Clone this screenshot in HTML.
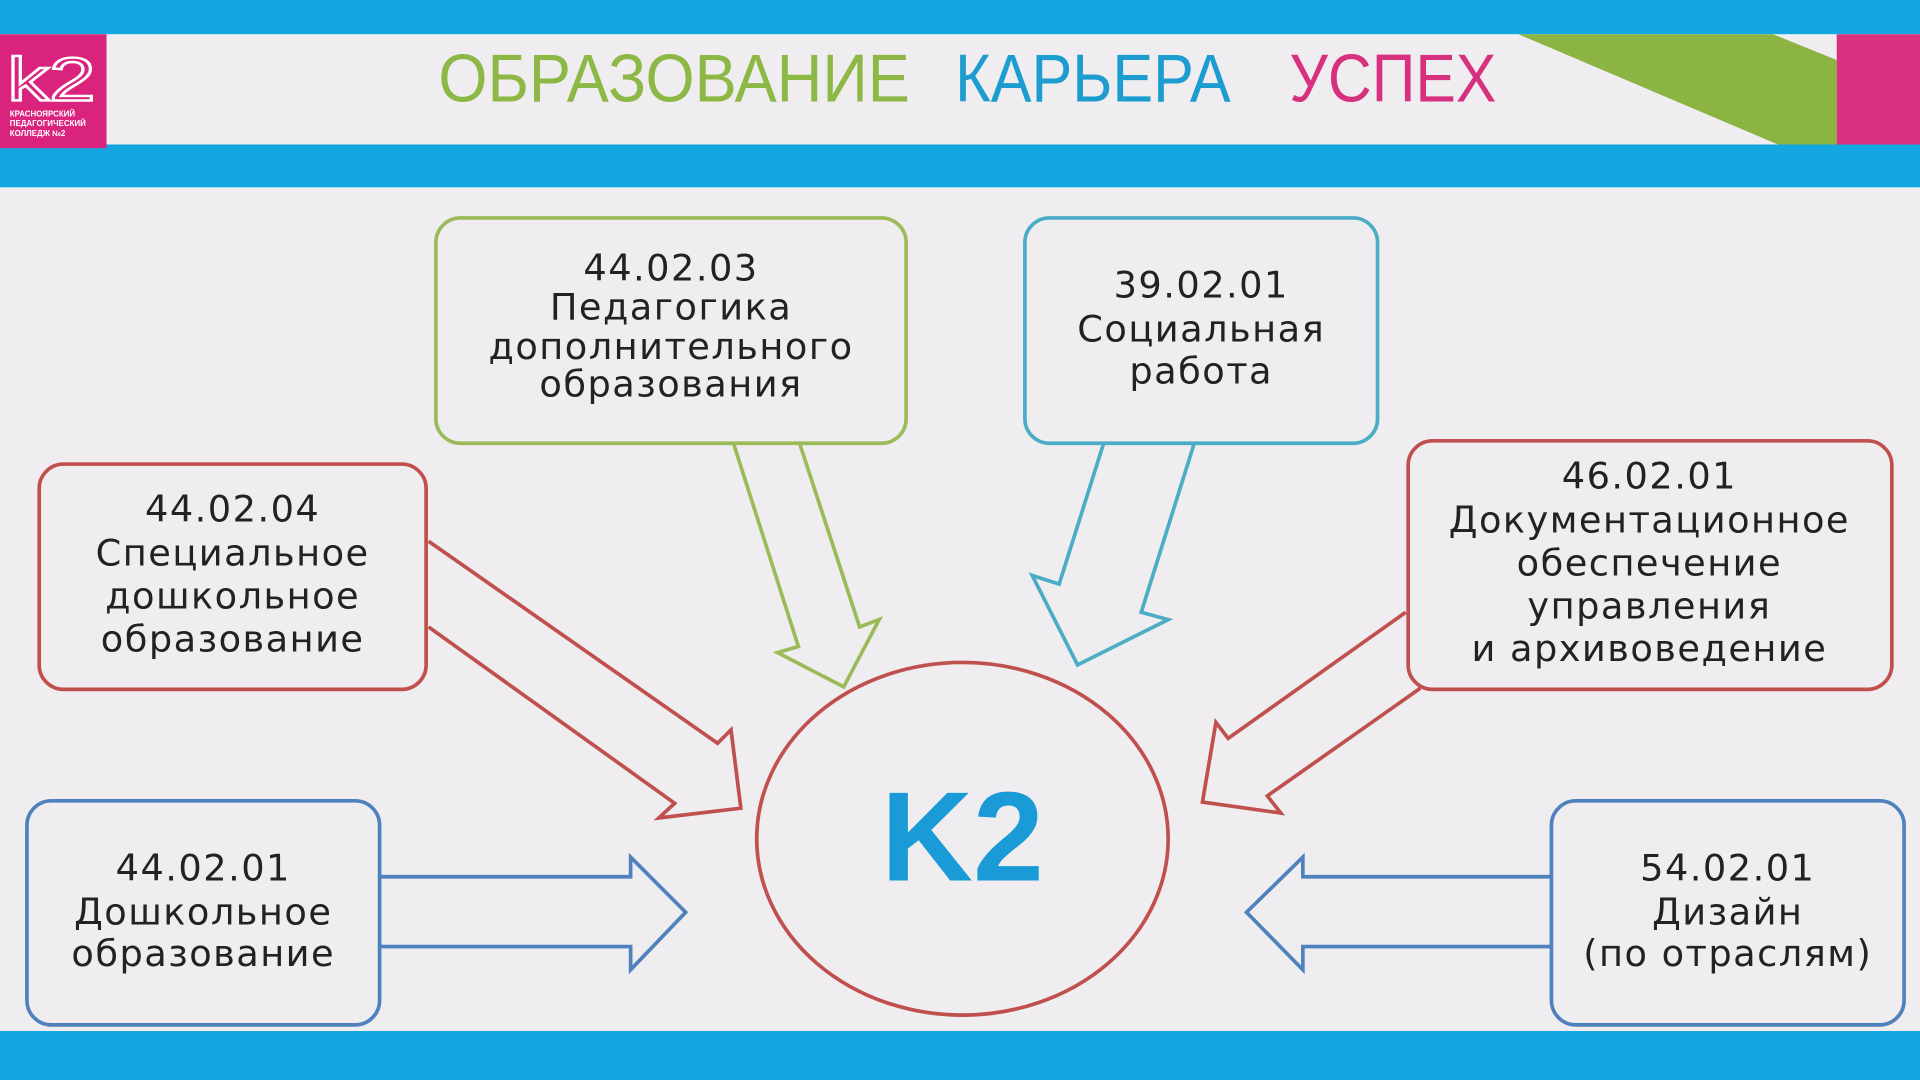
<!DOCTYPE html>
<html><head><meta charset="utf-8"><style>
html,body{margin:0;padding:0;background:#efedf0;}
svg{display:block}
text{font-family:"Liberation Sans","DejaVu Sans",sans-serif;}
.t text{font-family:"DejaVu Sans","Liberation Sans",sans-serif;letter-spacing:1.2px;}
</style></head><body>
<svg width="1920" height="1080" viewBox="0 0 1568 882" xmlns="http://www.w3.org/2000/svg">
<rect x="0" y="0" width="1568" height="882" fill="#efedf0"/>
<rect x="0" y="0" width="1568" height="28" fill="#14a6e0"/>
<rect x="0" y="28" width="1568" height="90" fill="#efedf0"/>
<rect x="0" y="118" width="1568" height="35" fill="#14a6e0"/>
<polygon points="1240,28 1448,28 1500,49 1500,118 1452,118" fill="#8cb443"/>
<rect x="1500" y="28" width="68" height="90" fill="#d9307f"/>
<rect x="0" y="28" width="87" height="93" fill="#d9237d"/>
<text x="6" y="82" font-size="50" fill="none" stroke="#fff" stroke-width="2" textLength="72" lengthAdjust="spacingAndGlyphs">k2</text>
<text x="8" y="95" font-size="6.5" fill="#fff" font-weight="bold">КРАСНОЯРСКИЙ</text>
<text x="8" y="103" font-size="6.5" fill="#fff" font-weight="bold">ПЕДАГОГИЧЕСКИЙ</text>
<text x="8" y="111" font-size="6.5" fill="#fff" font-weight="bold">КОЛЛЕДЖ №2</text>
<text x="358" y="83" font-size="55" fill="#8db845" textLength="385" lengthAdjust="spacingAndGlyphs">ОБРАЗОВАНИЕ</text>
<text x="780" y="83" font-size="55" fill="#1c9ccf" textLength="225" lengthAdjust="spacingAndGlyphs">КАРЬЕРА</text>
<text x="1053" y="83" font-size="55" fill="#d6307f" textLength="169" lengthAdjust="spacingAndGlyphs">УСПЕХ</text>
<rect x="0" y="842" width="1568" height="40" fill="#14a6e0"/>

<g fill="none" stroke-width="3" stroke-linejoin="miter">
<rect x="356" y="178" width="384" height="184" rx="20" stroke="#9bbb59"/>
<rect x="837" y="178" width="288" height="184" rx="20" stroke="#4bacc6"/>
<rect x="32" y="379" width="316" height="184" rx="20" stroke="#c0504d"/>
<rect x="1150" y="360" width="395" height="203" rx="20" stroke="#c0504d"/>
<rect x="22" y="654" width="288" height="183" rx="20" stroke="#4f81bd"/>
<rect x="1267" y="654" width="288" height="183" rx="20" stroke="#4f81bd"/>
<ellipse cx="786" cy="685" rx="168" ry="144" stroke="#c0504d"/>
<polyline points="599,362 652,528 635,533 689,561 718,506 702,512 653,362" stroke="#9bbb59"/>
<polyline points="901,363 865,477 843,470 880,543 954,506 932,500 975,363" stroke="#4bacc6"/>
<polyline points="350,442 586,607 597,596 605,660 538,668 551,656 350,512" stroke="#c0504d"/>
<polyline points="1148,500 1003,603 993,590 982,655 1046,664 1035,650 1160,562" stroke="#c0504d"/>
<polyline points="310,716 515,716 515,700 560,745 515,792 515,773 310,773" stroke="#4f81bd"/>
<polyline points="1267,716 1064,716 1064,700 1018,745 1064,792 1064,773 1267,773" stroke="#4f81bd"/>
</g>

<g class="t" font-size="30" fill="#222" text-anchor="middle">
<text x="548" y="229">44.02.03</text>
<text x="548" y="261">Педагогика</text>
<text x="548" y="293">дополнительного</text>
<text x="548" y="324">образования</text>
<text x="981" y="243">39.02.01</text>
<text x="981" y="279">Социальная</text>
<text x="981" y="313">работа</text>
<text x="190" y="426">44.02.04</text>
<text x="190" y="462">Специальное</text>
<text x="190" y="497">дошкольное</text>
<text x="190" y="532">образование</text>
<text x="1347" y="399">46.02.01</text>
<text x="1347" y="435">Документационное</text>
<text x="1347" y="470">обеспечение</text>
<text x="1347" y="505">управления</text>
<text x="1347" y="540">и архивоведение</text>
<text x="166" y="719">44.02.01</text>
<text x="166" y="755">Дошкольное</text>
<text x="166" y="789">образование</text>
<text x="1411" y="719">54.02.01</text>
<text x="1411" y="755">Дизайн</text>
<text x="1411" y="789">(по отраслям)</text>
</g>
<text x="786" y="719" font-size="104" font-weight="bold" fill="#1a9ad6" text-anchor="middle">K2</text>
</svg>
</body></html>
